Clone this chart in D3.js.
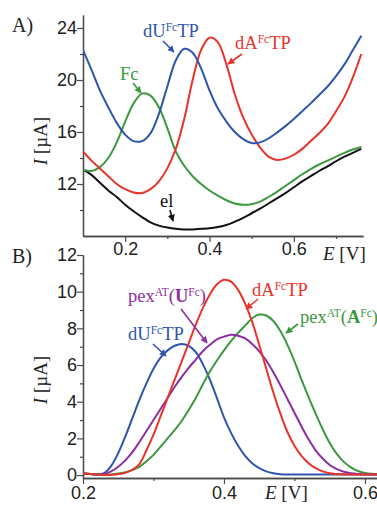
<!DOCTYPE html>
<html><head><meta charset="utf-8">
<script src="https://cdn.jsdelivr.net/npm/d3@7"></script>
<style>body{margin:0;background:#fff}svg{display:block}</style>
</head><body>
<svg id="c" width="377" height="505"></svg>
<script>
// ---------- Panel A data (E in V, I in µA) ----------
const potentialA = [0.10,0.12,0.14,0.16,0.18,0.20,0.22,0.24,0.26,0.28,0.30,0.32,0.34,0.36,0.38,0.40,0.42,0.44,0.46,0.48,0.50,0.52,0.54,0.56,0.58,0.60,0.62,0.64,0.66,0.68,0.70,0.72,0.74,0.76];
const dUFcTP_A = [22.3,20.8,19.2,17.9,16.7,15.8,15.3,15.3,15.9,17.4,19.5,21.5,22.4,22.1,20.9,19.2,17.8,16.8,16.0,15.45,15.15,15.2,15.5,15.95,16.45,17.0,17.6,18.2,18.85,19.5,20.3,21.2,22.3,23.4];
const dAFcTP_A = [14.5,13.8,13.2,12.6,12.0,11.6,11.35,11.3,11.6,12.2,13.2,14.7,17.0,20.0,22.3,23.25,22.9,21.2,18.9,17.1,15.8,14.8,14.1,13.85,13.95,14.25,14.7,15.3,15.9,16.6,17.6,18.7,20.2,22.0];
const Fc_A     = [13.1,13.0,13.3,14.0,15.2,16.8,18.2,18.95,18.8,17.9,16.3,14.5,13.4,12.6,12.0,11.5,11.1,10.75,10.5,10.4,10.45,10.65,11.0,11.4,11.85,12.3,12.75,13.15,13.5,13.8,14.1,14.4,14.65,14.85];
const el_A     = [13.1,12.7,12.1,11.5,11.0,10.4,9.9,9.45,9.05,8.8,8.65,8.55,8.5,8.5,8.55,8.6,8.7,8.85,9.1,9.4,9.75,10.1,10.5,10.9,11.3,11.75,12.2,12.6,13.0,13.35,13.75,14.1,14.4,14.7];
const yTicksA = [12,16,20,24];
const yMinorA = [10,14,18,22];
const xTicksA = [0.2,0.4,0.6];
const xMinorA = [0.3,0.5,0.7];

// ---------- Panel B data ----------
const potentialB = [0.20,0.21,0.22,0.23,0.24,0.25,0.26,0.27,0.28,0.29,0.30,0.31,0.32,0.33,0.34,0.35,0.36,0.37,0.38,0.39,0.40,0.41,0.42,0.43,0.44,0.45,0.46,0.47,0.48,0.49,0.50,0.51,0.52,0.53,0.54,0.55,0.56,0.57,0.58,0.59,0.60,0.61,0.62];
const dUFcTP_B = [0.08,0.06,0.03,0.1,0.5,1.2,2.1,3.1,4.1,5.0,5.8,6.4,6.8,7.05,7.15,7.05,6.7,6.05,5.2,4.2,3.15,2.3,1.6,1.05,0.65,0.38,0.2,0.1,0.05,0.03,0.03,0.03,0.03,0.03,0.03,0.03,0.03,0.03,0.03,0.03,0.03,0.03,0.03];
const dAFcTP_B = [0.08,0.06,0.03,0.01,0.02,0.05,0.12,0.28,0.6,1.35,2.2,3.2,4.2,5.2,6.2,7.2,8.2,9.1,9.85,10.4,10.65,10.55,10.1,9.35,8.35,7.1,5.8,4.5,3.35,2.35,1.6,1.05,0.65,0.38,0.2,0.1,0.06,0.04,0.03,0.03,0.03,0.03,0.03];
const pexU_B   = [0.08,0.06,0.03,0.05,0.2,0.45,0.8,1.25,1.8,2.4,3.0,3.6,4.2,4.8,5.35,5.85,6.3,6.75,7.1,7.4,7.55,7.65,7.6,7.45,7.15,6.75,6.25,5.6,4.9,4.15,3.4,2.65,1.95,1.35,0.9,0.55,0.32,0.18,0.1,0.06,0.04,0.03,0.03];
const pexA_B   = [0.08,0.06,0.03,0.02,0.03,0.08,0.15,0.28,0.45,0.75,1.1,1.55,2.0,2.45,2.95,3.55,4.2,4.95,5.65,6.25,6.8,7.3,7.75,8.15,8.55,8.75,8.7,8.4,7.85,7.1,6.2,5.2,4.25,3.35,2.5,1.75,1.15,0.72,0.42,0.22,0.12,0.07,0.05];
const yTicksB = [0,2,4,6,8,10,12];
const yMinorB = [1,3,5,7,9,11];
const xTicksB = [0.2,0.4,0.6];
const xMinorB = [0.3,0.5];

const C = {blue:"#2e55ad", red:"#e8332b", green:"#3b983f", black:"#111111", purple:"#8c2fa3", axis:"#4a4a4a"};

const svg = d3.select("#c");
const defs = svg.append("defs");
Object.entries(C).forEach(([k,col])=>{
  defs.append("marker").attr("id","ar-"+k).attr("viewBox","0 0 10 10")
    .attr("refX",9).attr("refY",5).attr("markerWidth",7).attr("markerHeight",7)
    .attr("markerUnits","userSpaceOnUse").attr("orient","auto")
    .append("path").attr("d","M0,0L10,5L0,10z").attr("fill",col);
});

const SANS = "'Liberation Sans', Arial, sans-serif";
const SERIF = "'Liberation Serif', 'Times New Roman', serif";

function panel(cfg){
  const x = d3.scaleLinear().domain(cfg.xd).range(cfg.xr);
  const y = d3.scaleLinear().domain(cfg.yd).range(cfg.yr);
  const g = svg.append("g");
  const cid = "clip"+cfg.id;
  defs.append("clipPath").attr("id",cid).append("rect")
    .attr("x",cfg.xr[0]).attr("y",cfg.yr[1]-2).attr("width",cfg.xr[1]-cfg.xr[0]).attr("height",cfg.yr[0]-cfg.yr[1]+2);
  const ax = g.append("g").attr("transform",`translate(0,${cfg.yr[0]})`)
    .call(d3.axisBottom(x).tickValues(cfg.xt).tickFormat(d3.format(".1f")).tickSize(6).tickSizeOuter(0));
  g.append("g").attr("transform",`translate(0,${cfg.yr[0]})`)
    .call(d3.axisBottom(x).tickValues(cfg.xm).tickFormat("").tickSize(3).tickSizeOuter(0));
  const ay = g.append("g").attr("transform",`translate(${cfg.xr[0]},0)`)
    .call(d3.axisLeft(y).tickValues(cfg.yt).tickSize(6).tickSizeOuter(0));
  g.append("g").attr("transform",`translate(${cfg.xr[0]},0)`)
    .call(d3.axisLeft(y).tickValues(cfg.ym).tickFormat("").tickSize(3).tickSizeOuter(0));
  g.selectAll(".domain").attr("stroke",C.axis).attr("stroke-width",1.3);
  g.selectAll(".tick line").attr("stroke",C.axis).attr("stroke-width",1.2);
  g.selectAll(".tick text").attr("fill","#222").style("font-family",SANS).style("font-size","18px");
  ax.selectAll(".tick text").attr("dy","0.78em").attr("y",cfg.xly);
  ay.selectAll(".tick text").attr("x",-6);
  const lg = g.append("g").attr("clip-path",`url(#${cid})`);
  cfg.series.forEach(s=>{
    const pts = cfg.xs.map((e,i)=>[e,s.v[i]]);
    lg.append("path").datum(pts).attr("fill","none").attr("stroke",s.c).attr("stroke-width",2)
      .attr("d",d3.line().x(d=>x(d[0])).y(d=>y(d[1])).curve(d3.curveCatmullRom.alpha(0.5)));
  });
  return {x,y,g};
}

function label(x0,y0,parts,col){
  const t = svg.append("text").attr("x",x0).attr("y",y0).attr("fill",col)
    .style("font-family",SERIF).style("font-size","18.5px");
  let prevSup=false;
  parts.forEach(p=>{
    const ts = t.append("tspan").text(p.t);
    if(p.sup){ ts.attr("dy",-6).style("font-size","11.5px"); prevSup=true; }
    else { if(prevSup) ts.attr("dy",6); prevSup=false; }
    if(p.b) ts.style("font-weight","bold");
  });
  return t;
}
function arrow(x1,y1,x2,y2,key){
  svg.append("line").attr("x1",x1).attr("y1",y1).attr("x2",x2).attr("y2",y2)
    .attr("stroke",C[key]).attr("stroke-width",1.6).attr("marker-end",`url(#ar-${key})`);
}

panel({id:"A", xd:[0.1,0.764], xr:[83,363], yd:[8,25], yr:[236,15], xly:5,
  xt:xTicksA, xm:xMinorA, yt:yTicksA, ym:yMinorA, xs:potentialA,
  series:[{v:el_A,c:C.black},{v:Fc_A,c:C.green},{v:dAFcTP_A,c:C.red},{v:dUFcTP_A,c:C.blue}]});
panel({id:"B", xd:[0.2,0.627], xr:[83,384], yd:[-0.16,12], yr:[478,255], xly:7,
  xt:xTicksB, xm:xMinorB, yt:yTicksB, ym:yMinorB, xs:potentialB,
  series:[{v:dUFcTP_B,c:C.blue},{v:pexA_B,c:C.green},{v:pexU_B,c:C.purple},{v:dAFcTP_B,c:C.red}]});

svg.append("text").attr("x",12).attr("y",32).text("A)").style("font-family",SERIF).style("font-size","20px").attr("fill","#222");
svg.append("text").attr("x",12).attr("y",263).text("B)").style("font-family",SERIF).style("font-size","20px").attr("fill","#222");

function yTitle(cx,cy){
  const t = svg.append("text").attr("transform",`translate(${cx},${cy}) rotate(-90)`).attr("text-anchor","middle")
    .style("font-family",SERIF).style("font-size","19px").attr("fill","#222");
  t.append("tspan").text("I").style("font-style","italic");
  t.append("tspan").text(" [µA]");
}
function xTitle(x0,y0){
  const t = svg.append("text").attr("x",x0).attr("y",y0)
    .style("font-family",SERIF).style("font-size","19px").attr("fill","#222");
  t.append("tspan").text("E").style("font-style","italic");
  t.append("tspan").text(" [V]");
}
yTitle(47,141); yTitle(47,380);
xTitle(323,260); xTitle(265,499);

label(143,37,[{t:"dU"},{t:"Fc",sup:true},{t:"TP"}],C.blue);
arrow(163,41,174,52,"blue");
label(235,49,[{t:"dA"},{t:"Fc",sup:true},{t:"TP"}],C.red);
arrow(242,54,228,64,"red");
label(120,80,[{t:"Fc"}],C.green);
arrow(133,83,141,93,"green");
label(160,207,[{t:"el"}],C.black);
arrow(170,210,173,221,"black");

label(128,302,[{t:"pex"},{t:"AT",sup:true},{t:"("},{t:"U",b:true},{t:"Fc",sup:true},{t:")"}],C.purple);
arrow(181,309,207,343,"purple");
label(128,340,[{t:"dU"},{t:"Fc",sup:true},{t:"TP"}],C.blue);
arrow(153,344,166,356,"blue");
label(252,296,[{t:"dA"},{t:"Fc",sup:true},{t:"TP"}],C.red);
arrow(258,299,246,309,"red");
label(300,323,[{t:"pex"},{t:"AT",sup:true},{t:"("},{t:"A",b:true},{t:"Fc",sup:true},{t:")"}],C.green);
arrow(298,324,286,333,"green");
</script>
</body></html>
